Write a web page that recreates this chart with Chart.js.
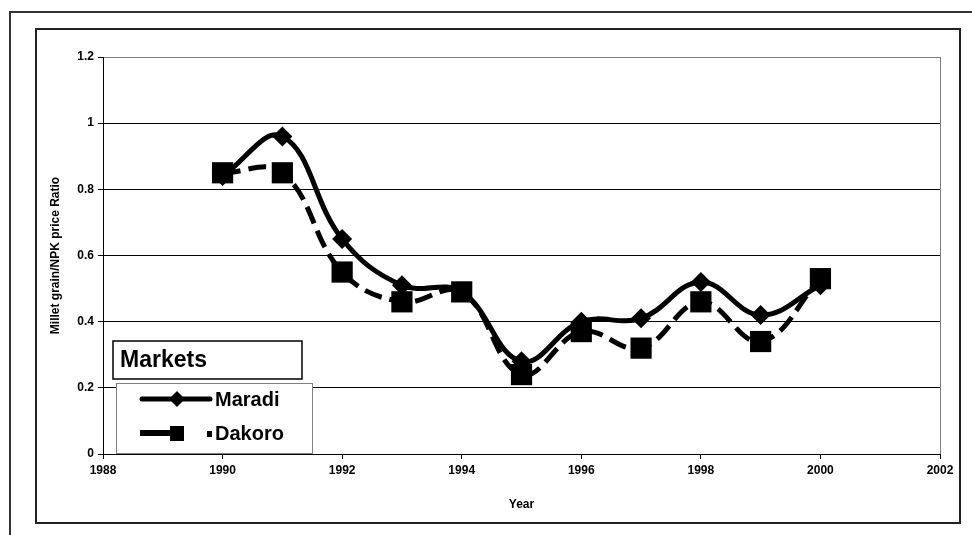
<!DOCTYPE html>
<html>
<head>
  <meta charset="UTF-8">
  <title>Millet grain/NPK price Ratio</title>
  <style>
    body {
      margin: 0;
      padding: 0;
      overflow: hidden;
      background: #fff;
    }

    #outer-frame {
      position: absolute;
      left: 9px;
      top: 11px;
      width: 963px;
      height: 524px;
      border-top: 2px solid #333;
      border-left: 2px solid #333;
      box-sizing: border-box;
    }

    #inner-frame {
      position: absolute;
      left: 35px;
      top: 28px;
      width: 926px;
      height: 496px;
      border: 2px solid #222;
      box-sizing: border-box;
    }

    #chart {
      position: absolute;
      left: 0;
      top: 0;
    }
  </style>
  <script src="https://cdn.jsdelivr.net/npm/chart.js"></script>
</head>
<body>
  <div id="outer-frame"></div>
  <div id="inner-frame"></div>
  <canvas id="chart" width="972" height="535"></canvas>

  <script>
    var years = [1990, 1991, 1992, 1993, 1994, 1995, 1996, 1997, 1998, 1999, 2000];
    var maradi = [0.84, 0.96, 0.65, 0.51, 0.49, 0.28, 0.40, 0.41, 0.52, 0.42, 0.51];
    var dakoro = [0.85, 0.85, 0.55, 0.46, 0.49, 0.24, 0.37, 0.32, 0.46, 0.34, 0.53];
    var seriesNames = ['Maradi', 'Dakoro'];
    var legendTitle = 'Markets';
    var xTitle = 'Year';
    var yTitle = 'Millet grain/NPK price Ratio';

    var tickFont = { family: 'Liberation Sans', size: 12, weight: 'bold' };

    function toPoints(values) {
      return years.map(function (yr, i) { return { x: yr, y: values[i] }; });
    }

    // legend box drawn by hand, sits on top of the plot like the excel one
    var marketsLegend = {
      id: 'marketsLegend',
      afterDraw: function (chart) {
        var ctx = chart.ctx;
        ctx.save();

        // title box
        ctx.fillStyle = '#fff';
        ctx.fillRect(113, 341, 189, 38);
        ctx.strokeStyle = '#000';
        ctx.lineWidth = 1.5;
        ctx.strokeRect(113, 341, 189, 38);
        ctx.fillStyle = '#000';
        ctx.font = 'bold 23px "Liberation Sans"';
        ctx.textBaseline = 'middle';
        ctx.fillText(legendTitle, 120, 361);

        // items box
        ctx.fillStyle = '#fff';
        ctx.fillRect(116.5, 383.5, 196, 70);
        ctx.strokeStyle = '#808080';
        ctx.lineWidth = 1;
        ctx.strokeRect(116.5, 383.5, 196, 70);

        // Maradi sample
        ctx.strokeStyle = '#000';
        ctx.lineWidth = 5;
        ctx.lineCap = 'round';
        ctx.beginPath();
        ctx.moveTo(142, 399);
        ctx.lineTo(210, 399);
        ctx.stroke();
        ctx.fillStyle = '#000';
        ctx.beginPath();
        ctx.moveTo(177, 391);
        ctx.lineTo(185, 399);
        ctx.lineTo(177, 407);
        ctx.lineTo(169, 399);
        ctx.closePath();
        ctx.fill();

        // Dakoro sample
        ctx.fillRect(140, 430, 31, 6);
        ctx.fillRect(170, 426, 14, 15);
        ctx.fillRect(207, 431, 5, 6);

        ctx.font = 'bold 20px "Liberation Sans"';
        ctx.fillText(seriesNames[0], 215, 400);
        ctx.fillText(seriesNames[1], 215, 434);
        ctx.restore();
      }
    };

    var ctx = document.getElementById('chart').getContext('2d');
    var chart = new Chart(ctx, {
      type: 'line',
      data: {
        datasets: [{
          label: seriesNames[0],
          data: toPoints(maradi),
          borderColor: '#000',
          backgroundColor: '#000',
          borderWidth: 5,
          tension: 0.4,
          pointStyle: 'rectRot',
          pointRadius: 10,
          pointBorderWidth: 0,
          pointBackgroundColor: '#000',
          order: 2
        }, {
          label: seriesNames[1],
          data: toPoints(dakoro),
          borderColor: '#000',
          backgroundColor: '#000',
          borderWidth: 5,
          borderDash: [18, 8],
          tension: 0.4,
          pointStyle: 'rect',
          pointRadius: 15,
          pointBorderWidth: 0,
          pointBackgroundColor: '#000',
          order: 1
        }]
      },
      options: {
        responsive: false,
        animation: false,
        layout: { padding: { left: 44, top: 57, right: 32, bottom: 22 } },
        plugins: {
          legend: { display: false },
          tooltip: { enabled: false }
        },
        scales: {
          x: {
            type: 'linear',
            min: 1988,
            max: 2002,
            ticks: {
              stepSize: 2,
              color: '#000',
              font: tickFont,
              padding: 4,
              maxRotation: 0,
              callback: function (v) { return String(v); }
            },
            grid: {
              color: function (c) { return c.tick && c.tick.value === 2002 ? '#808080' : 'rgba(0,0,0,0)'; },
              tickColor: '#000',
              tickLength: 5
            },
            border: { color: '#000', width: 1 },
            title: { display: true, text: xTitle, color: '#000', font: tickFont, padding: { top: 4, bottom: 1 } },
            afterFit: function (s) { s.height = 59; }
          },
          y: {
            min: 0,
            max: 1.2,
            ticks: {
              stepSize: 0.2,
              color: '#000',
              font: tickFont,
              padding: 4,
              callback: function (v) { return String(+v.toFixed(1)); }
            },
            grid: {
              color: function (c) { return c.tick && Math.abs(c.tick.value - 1.2) < 1e-6 ? '#808080' : '#000'; },
              tickColor: '#000',
              tickLength: 5
            },
            border: { color: '#000', width: 1 },
            title: { display: true, text: yTitle, color: '#000', font: tickFont, padding: 4 },
            afterFit: function (s) { s.width = 59; }
          }
        }
      },
      plugins: [marketsLegend]
    });
  </script>
</body>
</html>
